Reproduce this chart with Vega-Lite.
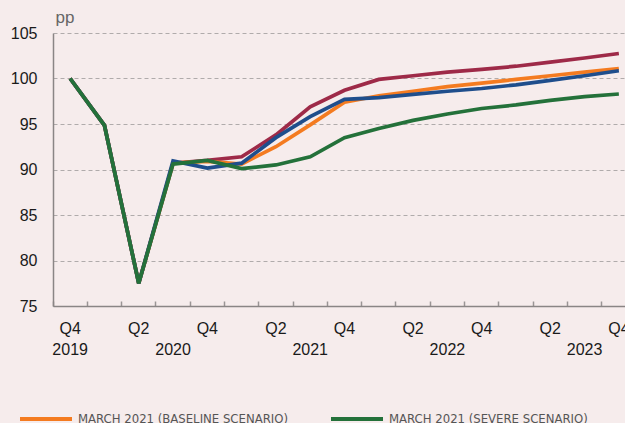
{
  "$schema": "https://vega.github.io/schema/vega-lite/v6.json",
  "width": 572,
  "height": 273,
  "autosize": {"type": "none"},
  "padding": {"left": 53, "top": 33, "right": 0, "bottom": 117},
  "background": "#F6ECEC",
  "config": {
    "view": {"stroke": null},
    "font": "Liberation Sans"
  },
  "data": {
    "values": [
      {"s": "MARCH 2021 (MILD SCENARIO)", "q": "Q4 2019", "v": 100},
      {"s": "MARCH 2021 (MILD SCENARIO)", "q": "Q1 2020", "v": 94.85},
      {"s": "MARCH 2021 (MILD SCENARIO)", "q": "Q2 2020", "v": 77.5},
      {"s": "MARCH 2021 (MILD SCENARIO)", "q": "Q3 2020", "v": 90.7},
      {"s": "MARCH 2021 (MILD SCENARIO)", "q": "Q4 2020", "v": 91.0},
      {"s": "MARCH 2021 (MILD SCENARIO)", "q": "Q1 2021", "v": 91.4},
      {"s": "MARCH 2021 (MILD SCENARIO)", "q": "Q2 2021", "v": 93.8},
      {"s": "MARCH 2021 (MILD SCENARIO)", "q": "Q3 2021", "v": 96.9},
      {"s": "MARCH 2021 (MILD SCENARIO)", "q": "Q4 2021", "v": 98.7},
      {"s": "MARCH 2021 (MILD SCENARIO)", "q": "Q1 2022", "v": 99.9},
      {"s": "MARCH 2021 (MILD SCENARIO)", "q": "Q2 2022", "v": 100.3},
      {"s": "MARCH 2021 (MILD SCENARIO)", "q": "Q3 2022", "v": 100.7},
      {"s": "MARCH 2021 (MILD SCENARIO)", "q": "Q4 2022", "v": 101.0},
      {"s": "MARCH 2021 (MILD SCENARIO)", "q": "Q1 2023", "v": 101.35},
      {"s": "MARCH 2021 (MILD SCENARIO)", "q": "Q2 2023", "v": 101.8},
      {"s": "MARCH 2021 (MILD SCENARIO)", "q": "Q3 2023", "v": 102.25},
      {"s": "MARCH 2021 (MILD SCENARIO)", "q": "Q4 2023", "v": 102.75},
      {"s": "MARCH 2021 (BASELINE SCENARIO)", "q": "Q4 2019", "v": 100},
      {"s": "MARCH 2021 (BASELINE SCENARIO)", "q": "Q1 2020", "v": 94.85},
      {"s": "MARCH 2021 (BASELINE SCENARIO)", "q": "Q2 2020", "v": 77.5},
      {"s": "MARCH 2021 (BASELINE SCENARIO)", "q": "Q3 2020", "v": 90.7},
      {"s": "MARCH 2021 (BASELINE SCENARIO)", "q": "Q4 2020", "v": 90.9},
      {"s": "MARCH 2021 (BASELINE SCENARIO)", "q": "Q1 2021", "v": 90.6},
      {"s": "MARCH 2021 (BASELINE SCENARIO)", "q": "Q2 2021", "v": 92.5},
      {"s": "MARCH 2021 (BASELINE SCENARIO)", "q": "Q3 2021", "v": 94.9},
      {"s": "MARCH 2021 (BASELINE SCENARIO)", "q": "Q4 2021", "v": 97.4},
      {"s": "MARCH 2021 (BASELINE SCENARIO)", "q": "Q1 2022", "v": 98.1},
      {"s": "MARCH 2021 (BASELINE SCENARIO)", "q": "Q2 2022", "v": 98.6},
      {"s": "MARCH 2021 (BASELINE SCENARIO)", "q": "Q3 2022", "v": 99.1},
      {"s": "MARCH 2021 (BASELINE SCENARIO)", "q": "Q4 2022", "v": 99.5},
      {"s": "MARCH 2021 (BASELINE SCENARIO)", "q": "Q1 2023", "v": 99.9},
      {"s": "MARCH 2021 (BASELINE SCENARIO)", "q": "Q2 2023", "v": 100.3},
      {"s": "MARCH 2021 (BASELINE SCENARIO)", "q": "Q3 2023", "v": 100.7},
      {"s": "MARCH 2021 (BASELINE SCENARIO)", "q": "Q4 2023", "v": 101.1},
      {"s": "DECEMBER 2020 (CENTRAL SCENARIO)", "q": "Q4 2019", "v": 100},
      {"s": "DECEMBER 2020 (CENTRAL SCENARIO)", "q": "Q1 2020", "v": 94.85},
      {"s": "DECEMBER 2020 (CENTRAL SCENARIO)", "q": "Q2 2020", "v": 77.5},
      {"s": "DECEMBER 2020 (CENTRAL SCENARIO)", "q": "Q3 2020", "v": 90.95},
      {"s": "DECEMBER 2020 (CENTRAL SCENARIO)", "q": "Q4 2020", "v": 90.15},
      {"s": "DECEMBER 2020 (CENTRAL SCENARIO)", "q": "Q1 2021", "v": 90.7},
      {"s": "DECEMBER 2020 (CENTRAL SCENARIO)", "q": "Q2 2021", "v": 93.5},
      {"s": "DECEMBER 2020 (CENTRAL SCENARIO)", "q": "Q3 2021", "v": 95.8},
      {"s": "DECEMBER 2020 (CENTRAL SCENARIO)", "q": "Q4 2021", "v": 97.7},
      {"s": "DECEMBER 2020 (CENTRAL SCENARIO)", "q": "Q1 2022", "v": 97.9},
      {"s": "DECEMBER 2020 (CENTRAL SCENARIO)", "q": "Q2 2022", "v": 98.25},
      {"s": "DECEMBER 2020 (CENTRAL SCENARIO)", "q": "Q3 2022", "v": 98.6},
      {"s": "DECEMBER 2020 (CENTRAL SCENARIO)", "q": "Q4 2022", "v": 98.9},
      {"s": "DECEMBER 2020 (CENTRAL SCENARIO)", "q": "Q1 2023", "v": 99.3},
      {"s": "DECEMBER 2020 (CENTRAL SCENARIO)", "q": "Q2 2023", "v": 99.8},
      {"s": "DECEMBER 2020 (CENTRAL SCENARIO)", "q": "Q3 2023", "v": 100.3},
      {"s": "DECEMBER 2020 (CENTRAL SCENARIO)", "q": "Q4 2023", "v": 100.85},
      {"s": "MARCH 2021 (SEVERE SCENARIO)", "q": "Q4 2019", "v": 100},
      {"s": "MARCH 2021 (SEVERE SCENARIO)", "q": "Q1 2020", "v": 94.85},
      {"s": "MARCH 2021 (SEVERE SCENARIO)", "q": "Q2 2020", "v": 77.5},
      {"s": "MARCH 2021 (SEVERE SCENARIO)", "q": "Q3 2020", "v": 90.6},
      {"s": "MARCH 2021 (SEVERE SCENARIO)", "q": "Q4 2020", "v": 91.0},
      {"s": "MARCH 2021 (SEVERE SCENARIO)", "q": "Q1 2021", "v": 90.1},
      {"s": "MARCH 2021 (SEVERE SCENARIO)", "q": "Q2 2021", "v": 90.5},
      {"s": "MARCH 2021 (SEVERE SCENARIO)", "q": "Q3 2021", "v": 91.4},
      {"s": "MARCH 2021 (SEVERE SCENARIO)", "q": "Q4 2021", "v": 93.5},
      {"s": "MARCH 2021 (SEVERE SCENARIO)", "q": "Q1 2022", "v": 94.5},
      {"s": "MARCH 2021 (SEVERE SCENARIO)", "q": "Q2 2022", "v": 95.4},
      {"s": "MARCH 2021 (SEVERE SCENARIO)", "q": "Q3 2022", "v": 96.1},
      {"s": "MARCH 2021 (SEVERE SCENARIO)", "q": "Q4 2022", "v": 96.7},
      {"s": "MARCH 2021 (SEVERE SCENARIO)", "q": "Q1 2023", "v": 97.1},
      {"s": "MARCH 2021 (SEVERE SCENARIO)", "q": "Q2 2023", "v": 97.6},
      {"s": "MARCH 2021 (SEVERE SCENARIO)", "q": "Q3 2023", "v": 98.0},
      {"s": "MARCH 2021 (SEVERE SCENARIO)", "q": "Q4 2023", "v": 98.3}
    ]
  },
  "mark": {"type": "line", "strokeWidth": 3.7, "strokeJoin": "miter", "clip": false},
  "encoding": {
    "x": {
      "field": "q",
      "type": "ordinal",
      "sort": null,
      "bandPosition": 0.5,
      "scale": {"type": "band", "paddingInner": 0, "paddingOuter": 0, "range": [0, 583]},
      "axis": {
        "title": null,
        "bandPosition": 0,
        "domainColor": "#8a8585",
        "domainWidth": 1.5,
        "tickColor": "#9a9595",
        "tickWidth": 1.5,
        "tickSize": -5,
        "labelOverlap": false,
        "labelAngle": 0,
        "labelFontSize": 16,
        "labelColor": "#1a1a1a",
        "labelPadding": 19,
        "labelLineHeight": 21,
        "labelBaseline": "top",
        "labelExpr": "datum.value == 'Q4 2019' ? ['Q4', '2019'] : (slice(datum.value, 0, 2) == 'Q2' || slice(datum.value, 0, 2) == 'Q4') ? [slice(datum.value, 0, 2), ''] : slice(datum.value, 0, 2) == 'Q3' ? [' ', slice(datum.value, 3)] : ''"
      }
    },
    "y": {
      "field": "v",
      "type": "quantitative",
      "scale": {"domain": [75, 105], "nice": false, "zero": false},
      "axis": {
        "values": [75, 80, 85, 90, 95, 100, 105],
        "title": "pp",
        "titleAngle": 0,
        "titleX": 2,
        "titleY": -10.5,
        "titleAlign": "left",
        "titleBaseline": "alphabetic",
        "titleFontSize": 17,
        "titleFontWeight": "normal",
        "titleColor": "#666",
        "grid": true,
        "gridDash": [4, 3],
        "gridColor": "#b0abab",
        "gridWidth": 1.2,
        "domainColor": "#8a8585",
        "domainWidth": 1.5,
        "ticks": false,
        "labelFontSize": 16,
        "labelColor": "#1a1a1a",
        "labelPadding": 16
      }
    },
    "color": {
      "field": "s",
      "type": "nominal",
      "sort": null,
      "scale": {
        "domain": ["MARCH 2021 (BASELINE SCENARIO)", "MARCH 2021 (MILD SCENARIO)", "MARCH 2021 (SEVERE SCENARIO)", "DECEMBER 2020 (CENTRAL SCENARIO)"],
        "range": ["#F47B20", "#9E2A48", "#24713A", "#1F4E8C"]
      },
      "legend": {
        "title": null,
        "orient": "none",
        "legendX": -35,
        "legendY": 358,
        "columns": 2,
        "symbolType": "stroke",
        "symbolSize": 2704,
        "symbolStrokeWidth": 4,
        "labelOffset": 4,
        "columnPadding": 35,
        "labelFont": "DejaVu Sans Condensed",
        "labelFontSize": 13,
        "labelColor": "#555",
        "labelLimit": 400
      }
    }
  }
}
